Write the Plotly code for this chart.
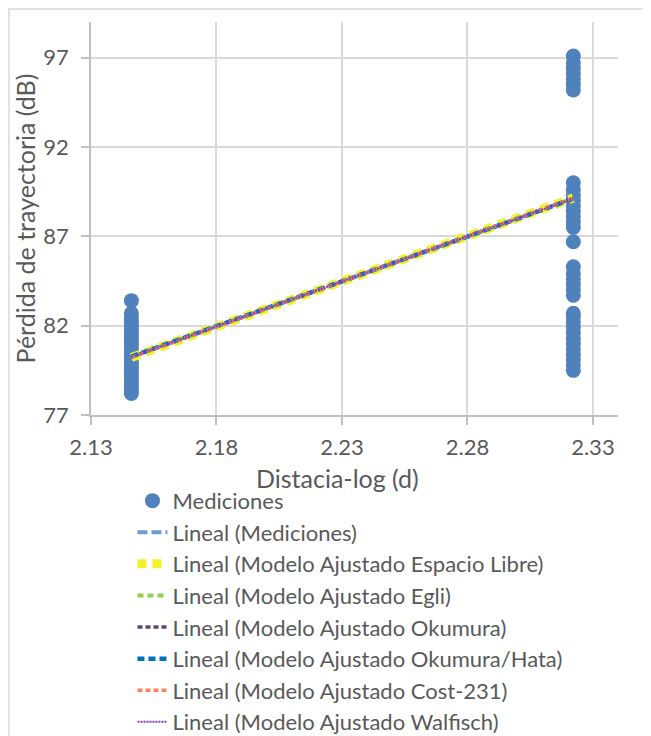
import plotly.graph_objects as go

# ---- data ----
x_near = 2.1461   # log10(140)
x_far = 2.3222    # log10(210)

near_loss = [78.2, 78.4, 78.6, 78.8, 79.0, 79.2, 79.4, 79.6, 79.8, 80.0, 80.2,
             80.4, 80.6, 80.8, 81.0, 81.2, 81.4, 81.6, 81.8, 82.0, 82.2, 82.4,
             82.7, 83.4]
far_loss = [79.5, 79.8, 80.1, 80.4, 80.7, 81.0, 81.3, 81.6, 81.9, 82.2, 82.5,
            82.7, 83.7, 84.0, 84.3, 84.6, 84.9, 85.3, 86.7, 87.5, 87.8, 88.1,
            88.4, 88.7, 89.0, 89.3, 89.6, 90.0, 95.2, 95.5, 95.8, 96.1, 96.4,
            96.7, 97.1]

trend_x = [x_near, x_far]
trend_names = [
    "Lineal (Mediciones)",
    "Lineal (Modelo Ajustado Espacio Libre)",
    "Lineal (Modelo Ajustado Egli)",
    "Lineal (Modelo Ajustado Okumura)",
    "Lineal (Modelo Ajustado Okumura/Hata)",
    "Lineal (Modelo Ajustado Cost-231)",
    "Lineal (Modelo Ajustado Walfisch)",
]
trend_start = [80.25, 80.22, 80.26, 80.24, 80.27, 80.23, 80.25]
trend_end = [89.12, 89.15, 89.10, 89.13, 89.11, 89.14, 89.12]

x_ticks = [2.13, 2.18, 2.23, 2.28, 2.33]
y_ticks = [77, 82, 87, 92, 97]

# ---- styles ----
trend_colors = ["#6F9BD6", "#F2F228", "#92D050", "#5B4870", "#0070C0", "#F7845E", "#7F3FBF"]
trend_widths = [4, 9, 4, 3.5, 4.5, 3.5, 2]
trend_dash = ["10px,4px", "9px,6px", "6px,4px", "5px,3px", "7px,4px", "5px,3px", "2px,1px"]

FONT = "Lato"
GRAY = "#595959"

fig = go.Figure()

fig.add_trace(go.Scatter(
    x=[x_near] * len(near_loss) + [x_far] * len(far_loss),
    y=near_loss + far_loss,
    mode="markers",
    name="Mediciones",
    marker=dict(size=15, color="#4F81BD"),
    legendgroup="g0",
))

for i, nm in enumerate(trend_names):
    fig.add_trace(go.Scatter(
        x=trend_x,
        y=[trend_start[i], trend_end[i]],
        mode="lines",
        name=nm,
        line=dict(color=trend_colors[i], width=trend_widths[i], dash=trend_dash[i]),
        legendgroup="g%d" % (i + 1),
    ))

fig.update_layout(
    width=643, height=728,
    margin=dict(l=83, r=33, t=14, b=321, autoexpand=False),
    paper_bgcolor="white", plot_bgcolor="white",
    font=dict(family=FONT, color=GRAY, size=22),
    xaxis=dict(
        range=[2.13, 2.34], tickvals=x_ticks, ticktext=["%.2f" % v for v in x_ticks],
        showgrid=True, gridcolor="#D9D9D9", gridwidth=1.5,
        showline=True, linecolor="#BFBFBF", linewidth=1.5,
        ticks="outside", ticklen=8, tickcolor="#BFBFBF", tickwidth=1.5,
        ticklabelstandoff=4, zeroline=False, automargin=False,
        tickfont=dict(size=22, color=GRAY, family=FONT),
    ),
    yaxis=dict(
        range=[77, 99], tickvals=y_ticks,
        showgrid=True, gridcolor="#D9D9D9", gridwidth=1.5,
        showline=True, linecolor="#BFBFBF", linewidth=1.5,
        ticks="outside", ticklen=8, tickcolor="#BFBFBF", tickwidth=1.5,
        ticklabelstandoff=8, zeroline=False, automargin=False,
        tickfont=dict(size=22, color=GRAY, family=FONT),
        title=dict(text="Pérdida de trayectoria (dB)", font=dict(size=25, color=GRAY, family=FONT), standoff=1),
    ),
    legend=dict(
        x=0.0787, y=-0.165, xanchor="left", yanchor="top",
        font=dict(size=22, color=GRAY, family=FONT),
        tracegroupgap=0, bgcolor="rgba(0,0,0,0)",
    ),
    annotations=[dict(
        text="Distacia-log (d)", xref="paper", yref="paper",
        x=0.467, y=-0.16, xanchor="center", yanchor="middle",
        showarrow=False, font=dict(size=25, color=GRAY, family=FONT),
    )],
    shapes=[dict(
        type="rect", xref="paper", yref="paper",
        x0=-0.1556, y0=-0.9, x1=1.2, y1=1.033,
        line=dict(color="#D9D9D9", width=1.5), layer="below",
    )],
)

fig.write_html("out.html")
